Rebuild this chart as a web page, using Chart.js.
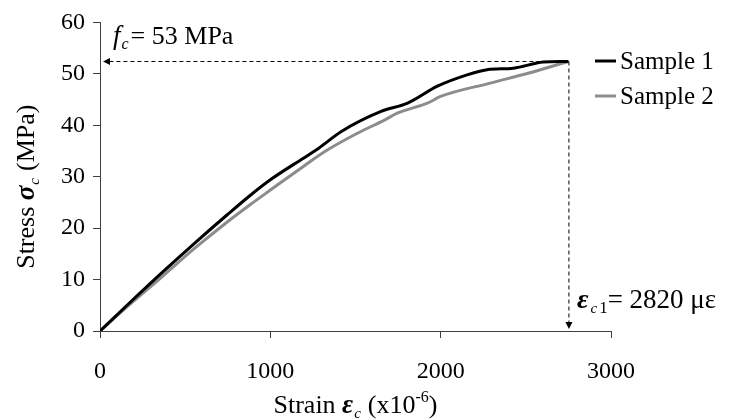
<!DOCTYPE html>
<html>
<head>
<meta charset="utf-8">
<script src="https://cdn.jsdelivr.net/npm/chart.js@4.4.0/dist/chart.umd.min.js"></script>
<style>
html, body { margin: 0; padding: 0; background: #fff; }
#wrap { width: 735px; height: 420px; }
</style>
</head>
<body>
<div id="wrap"><canvas id="myChart" width="735" height="420"></canvas></div>
<script>
// strain (x10^-6) and stress (MPa)
var sample1Strain = [0, 165, 359, 553, 747, 883, 1000, 1194, 1282, 1417, 1650, 1806, 1981, 2155, 2272, 2427, 2602, 2699, 2750];
var sample1Stress = [0, 5.2, 11.2, 17.0, 22.6, 26.4, 29.4, 33.6, 35.5, 38.8, 42.7, 44.3, 47.6, 49.8, 50.8, 51.1, 52.3, 52.4, 52.4];
var sample2Strain = [0, 165, 359, 553, 747, 883, 1000, 1194, 1320, 1514, 1670, 1748, 1922, 2000, 2291, 2524, 2750];
var sample2Stress = [0, 4.9, 10.4, 16.0, 21.2, 24.6, 27.4, 32.0, 34.9, 38.5, 41.0, 42.4, 44.3, 45.6, 48.2, 50.2, 52.4];
var seriesNames = ['Sample 1', 'Sample 2'];
var seriesColors = ['#000000', '#8c8c8c'];

var peakStrain = 2750;
var peakStress = 52.4;
var fcText = '= 53 MPa';
var epsText = '= 2820 \u03bc\u03b5';

var SERIF = '"Liberation Serif", "DejaVu Serif", serif';

function toPoints(xs, ys) {
  var pts = [];
  for (var i = 0; i < xs.length; i++) pts.push({ x: xs[i], y: ys[i] });
  return pts;
}

// draw a row of text runs, each with its own font and baseline shift
function drawRuns(ctx, x, y, runs) {
  var cx = x;
  runs.forEach(function (r) {
    ctx.font = r.font;
    ctx.fillText(r.text, cx, y + (r.dy || 0));
    cx += ctx.measureText(r.text).width + (r.gap || 0);
  });
  return cx - x;
}
function runsWidth(ctx, runs) {
  var w = 0;
  runs.forEach(function (r) {
    ctx.font = r.font;
    w += ctx.measureText(r.text).width + (r.gap || 0);
  });
  return w;
}

function arrowHead(ctx, x, y, dir) {
  ctx.beginPath();
  if (dir == 'left') {
    ctx.moveTo(x, y); ctx.lineTo(x + 7, y - 3.5); ctx.lineTo(x + 7, y + 3.5);
  } else {
    ctx.moveTo(x, y); ctx.lineTo(x - 3.5, y - 7); ctx.lineTo(x + 3.5, y - 7);
  }
  ctx.closePath();
  ctx.fill();
}

var extras = {
  id: 'extras',
  afterDraw: function (chart) {
    var ctx = chart.ctx;
    var xs = chart.scales.x, ys = chart.scales.y;
    var area = chart.chartArea;
    ctx.save();
    ctx.fillStyle = '#000';
    ctx.strokeStyle = '#000';
    ctx.textBaseline = 'alphabetic';
    ctx.textAlign = 'left';

    // peak guide lines
    var px = xs.getPixelForValue(peakStrain);
    var py = ys.getPixelForValue(peakStress);
    ctx.lineWidth = 1;
    ctx.setLineDash([4, 3]);
    ctx.beginPath();
    ctx.moveTo(px, py); ctx.lineTo(area.left + 9, py);
    ctx.moveTo(px + 0.5, py); ctx.lineTo(px + 0.5, area.bottom - 9);
    ctx.stroke();
    ctx.setLineDash([]);
    arrowHead(ctx, area.left + 3, py, 'left');
    arrowHead(ctx, px + 0.5, area.bottom - 2, 'down');

    // f_c label
    drawRuns(ctx, 113, 44, [
      { text: 'f', font: 'italic 27px ' + SERIF, gap: 1 },
      { text: 'c', font: 'italic 16px ' + SERIF, dy: 5, gap: 2 },
      { text: fcText, font: '26px ' + SERIF }
    ]);

    // eps_c1 label
    drawRuns(ctx, 577, 308, [
      { text: '\u03b5', font: 'italic bold 28px ' + SERIF, gap: 2 },
      { text: 'c', font: 'italic 15px ' + SERIF, dy: 5, gap: 2 },
      { text: '1', font: '17px ' + SERIF, dy: 5 },
      { text: epsText, font: '27px ' + SERIF }
    ]);

    // x axis title
    var xRuns = [
      { text: 'Strain ', font: '26px ' + SERIF },
      { text: '\u03b5', font: 'italic bold 27px ' + SERIF, gap: 1 },
      { text: 'c', font: 'italic 15px ' + SERIF, dy: 5, gap: 7 },
      { text: '(x10', font: '26px ' + SERIF },
      { text: '-6', font: '16px ' + SERIF, dy: -11 },
      { text: ')', font: '26px ' + SERIF }
    ];
    var xw = runsWidth(ctx, xRuns);
    drawRuns(ctx, (area.left + area.right) / 2 - xw / 2, 413, xRuns);

    // y axis title
    var yRuns = [
      { text: 'Stress ', font: '26px ' + SERIF },
      { text: '\u03c3', font: 'italic bold 27px ' + SERIF, gap: 1 },
      { text: 'c', font: 'italic 15px ' + SERIF, dy: 5, gap: 7 },
      { text: '(MPa)', font: '26px ' + SERIF }
    ];
    var yw = runsWidth(ctx, yRuns);
    ctx.save();
    ctx.translate(34, (area.top + area.bottom) / 2 + 10);
    ctx.rotate(-Math.PI / 2);
    drawRuns(ctx, -yw / 2, 0, yRuns);
    ctx.restore();

    // legend
    chart.data.datasets.forEach(function (ds, i) {
      var ly = 61 + i * 35;
      ctx.strokeStyle = ds.borderColor;
      ctx.lineWidth = 3;
      ctx.beginPath();
      ctx.moveTo(595, ly); ctx.lineTo(616, ly);
      ctx.stroke();
      ctx.fillStyle = '#000';
      ctx.font = '25px ' + SERIF;
      ctx.textBaseline = 'middle';
      ctx.fillText(ds.label, 620, ly + 1);
    });
    ctx.restore();
  }
};

var ctx = document.getElementById('myChart');
var myChart = new Chart(ctx, {
  type: 'scatter',
  data: {
    datasets: [
      {
        label: seriesNames[0],
        data: toPoints(sample1Strain, sample1Stress),
        borderColor: seriesColors[0],
        backgroundColor: seriesColors[0],
        borderWidth: 3,
        showLine: true,
        cubicInterpolationMode: 'monotone',
        pointRadius: 0
      },
      {
        label: seriesNames[1],
        data: toPoints(sample2Strain, sample2Stress),
        borderColor: seriesColors[1],
        backgroundColor: seriesColors[1],
        borderWidth: 3,
        showLine: true,
        cubicInterpolationMode: 'monotone',
        pointRadius: 0
      }
    ]
  },
  options: {
    responsive: false,
    animation: false,
    devicePixelRatio: 1,
    layout: { padding: { top: 21, right: 124, left: 0, bottom: 0 } },
    plugins: {
      legend: { display: false },
      tooltip: { enabled: false }
    },
    scales: {
      x: {
        type: 'linear',
        min: 0,
        max: 3000,
        afterFit: function (s) { s.height = 89; },
        ticks: {
          stepSize: 1000, color: '#000', padding: 19,
          font: { family: SERIF, size: 24 },
          callback: function (v) { return String(v); }
        },
        grid: { drawOnChartArea: false, drawTicks: true, tickLength: 7, color: '#404040' },
        border: { display: true, color: '#404040', width: 1 }
      },
      y: {
        min: 0,
        max: 60,
        afterFit: function (s) { s.width = 100; },
        ticks: { stepSize: 10, color: '#000', padding: 8, font: { family: SERIF, size: 24 } },
        grid: { drawOnChartArea: false, drawTicks: true, tickLength: 7, color: '#404040' },
        border: { display: true, color: '#404040', width: 1 }
      }
    }
  },
  plugins: [extras]
});
</script>
</body>
</html>
